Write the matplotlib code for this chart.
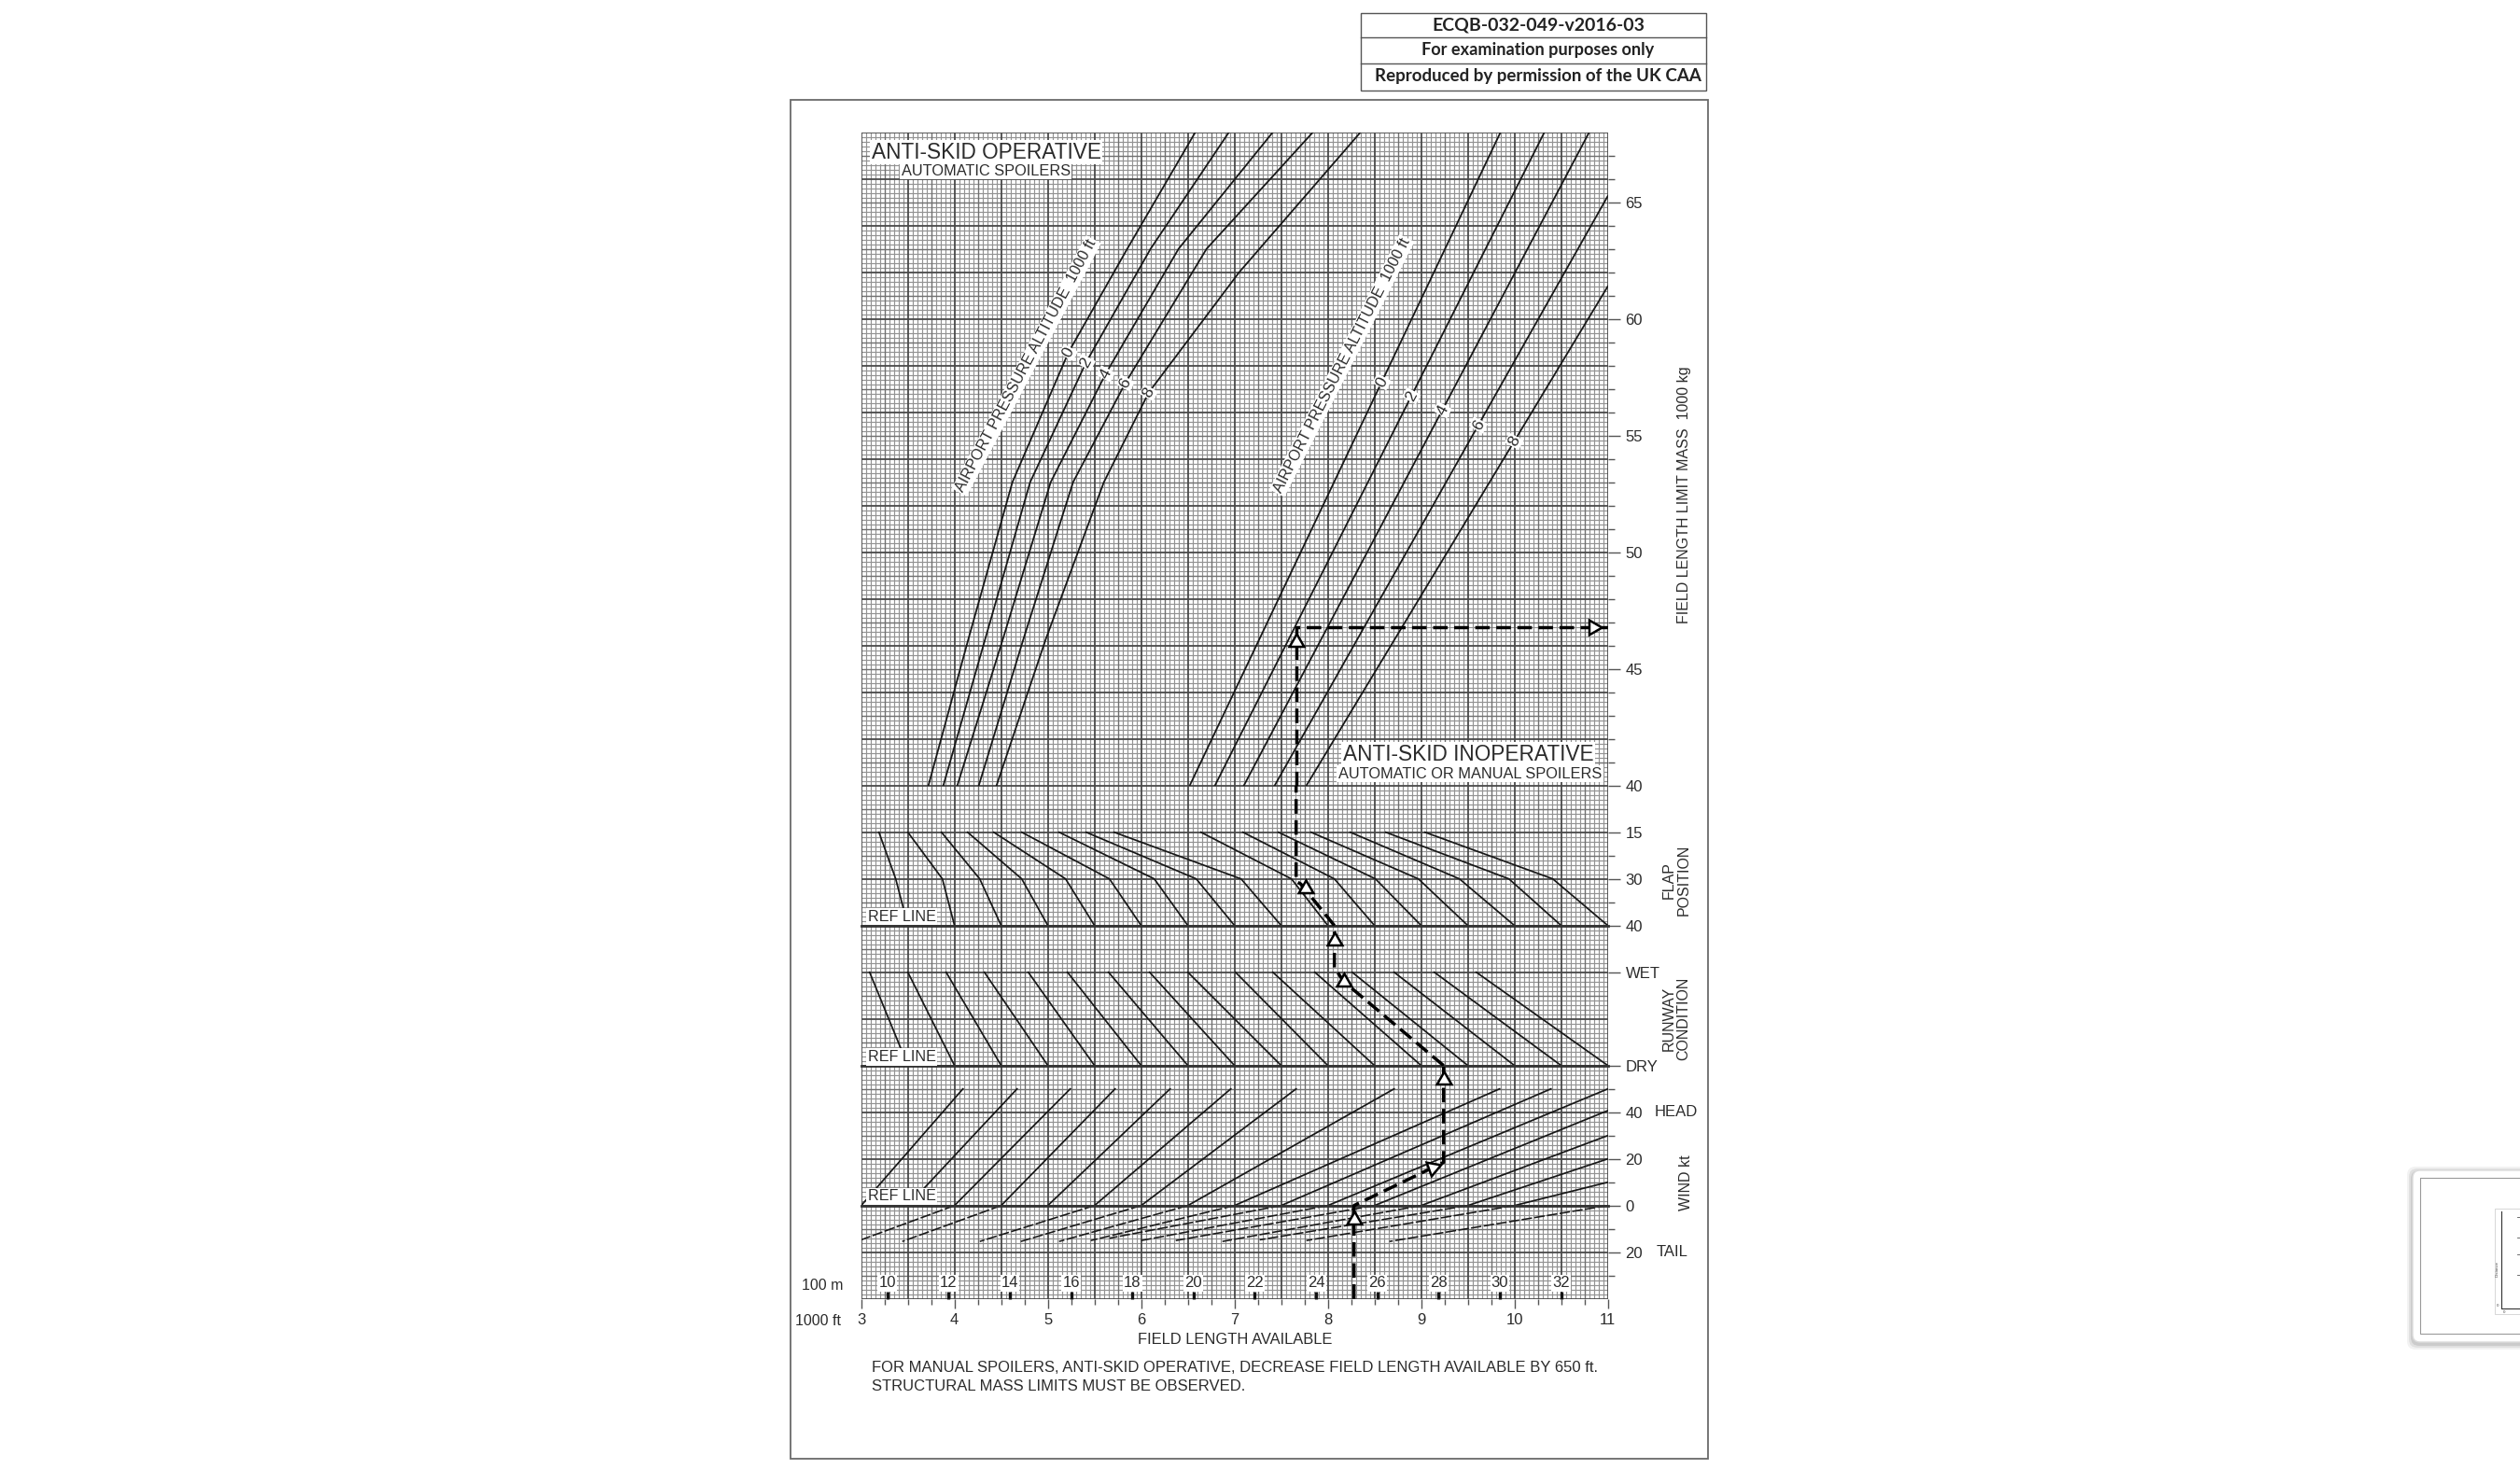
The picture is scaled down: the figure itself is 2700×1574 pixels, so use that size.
import numpy as np
import matplotlib
matplotlib.use("Agg")
import matplotlib.pyplot as plt
from matplotlib.collections import LineCollection
from matplotlib.patches import Rectangle, FancyBboxPatch
from matplotlib.ticker import MultipleLocator

plt.rcParams['font.family'] = ['Liberation Sans', 'DejaVu Sans']

W, H = 2700, 1574

# ---------------- data ----------------
# field length available, 1000 ft and 100 m
ft_ticks = [3, 4, 5, 6, 7, 8, 9, 10, 11]
m_ticks = [10, 12, 14, 16, 18, 20, 22, 24, 26, 28, 30, 32]

# mass panel (1000 kg) - anti-skid operative, pressure altitude 0..8 (1000 ft)
alt_names = ['0', '2', '4', '6', '8']
op_ft = [
  [3.72, 4.15, 4.62, 5.22, 5.85, 6.58],
  [3.88, 4.33, 4.81, 5.41, 6.10, 6.94],
  [4.03, 4.52, 5.03, 5.62, 6.40, 7.41],
  [4.26, 4.74, 5.27, 5.83, 6.70, 7.84],
  [4.45, 4.98, 5.60, 6.08, 7.05, 8.35],
]
op_mass = [
  [40, 46.3, 53.0, 58.56, 63.0, 68.0],
  [40, 46.3, 53.0, 58.14, 63.0, 68.0],
  [40, 46.3, 53.0, 57.65, 63.0, 68.0],
  [40, 46.3, 53.0, 57.25, 63.0, 68.0],
  [40, 46.3, 53.0, 56.84, 62.0, 68.0],
]
# anti-skid inoperative
inop_ft = [[6.52, 9.85], [6.79, 10.32], [7.10, 10.80], [7.43, 11.0], [7.77, 11.0]]
inop_mass = [[40, 68], [40, 68], [40, 68], [40, 65.27], [40, 61.4]]
inop_label_mass = [57.3, 56.7, 56.1, 55.45, 54.75]
mass_major = [40, 45, 50, 55, 60, 65]
mass_minor = [41, 42, 43, 44, 46, 47, 48, 49, 51, 52, 53, 54, 56, 57, 58, 59,
              61, 62, 63, 64, 66, 67]

# flap position guide lines (x at flap 15, 30, 40 = REF)
flap_names = ['40', '30', '15']
flap15_ft = [3.19, 3.50, 3.86, 4.14, 4.42, 4.72, 5.12, 5.41, 5.71,
             6.64, 7.09, 7.47, 7.82, 8.24, 8.62, 9.04]
flap30_ft = [3.37, 3.87, 4.27, 4.72, 5.19, 5.66, 6.14, 6.59, 7.07,
             7.61, 8.07, 8.51, 8.97, 9.41, 9.94, 10.41]
flap40_ft = [3.5, 4.0, 4.5, 5.0, 5.5, 6.0, 6.5, 7.0, 7.5,
             8.0, 8.5, 9.0, 9.5, 10.0, 10.5, 11.0]

# runway condition guide lines (x at WET, x at DRY = REF)
rwy_wet_ft = [3.09, 3.50, 3.91, 4.32, 4.79, 5.21, 5.65, 6.09, 6.50,
              7.01, 7.41, 7.86, 8.26, 8.71, 9.14, 9.59]
rwy_dry_ft = [3.5, 4.0, 4.5, 5.0, 5.5, 6.0, 6.5, 7.0, 7.5,
              8.0, 8.5, 9.0, 9.5, 10.0, 10.5, 11.0]

# wind guide lines (kt): headwind above REF, tailwind below
head_ref_ft = [3.0, 3.5, 4.0, 4.5, 5.0, 5.5, 6.0, 6.5, 7.0, 7.5, 8.0, 8.5, 9.0, 9.5, 10.0]
head_end_ft = [4.09, 4.67, 5.24, 5.72, 6.31, 6.96, 7.66, 8.71, 9.84, 10.39,
               11.0, 11.0, 11.0, 11.0, 11.0]
head_end_kt = [50, 50, 50, 50, 50, 50, 50, 50, 50, 50, 50, 40.7, 30, 20, 10]
tail_ref_ft = [4.0, 4.5, 5.5, 6.0, 6.5, 7.0, 7.5, 8.0, 8.5, 9.0, 9.5, 10.0, 11.0]
tail_end_ft = [3.0, 3.44, 4.27, 4.71, 5.12, 5.46, 5.66, 6.0, 6.37, 6.87, 7.27, 7.77, 8.66]
tail_end_kt = [-14.7, -15.4, -15.4, -15.4, -15.4, -15.0, -14.0, -15.0, -15.0,
               -15.4, -14.7, -15.0, -15.4]

# worked example (dashed path) and its arrow heads (x, y, marker angle)
ex_wind_ft = [8.28, 8.28, 9.24, 9.24]
ex_wind_kt = [-40, 0, 18.5, 60]
ex_rwy_ft = [9.24, 8.17, 8.07, 8.07]
ex_rwy_y = [0, 0.9, 1.05, 1.5]
ex_flap_ft = [8.07, 7.71, 7.66, 7.66]
ex_flap_y = [0, 0.89, 0.95, 3]
ex_mass_ft = [7.66, 7.66, 11.0]
ex_mass = [40, 46.8, 46.8]
arr_wind = [(8.28, -6.0, 0), (9.12, 16.2, 170), (9.24, 54.0, 0)]
arr_rwy = [(8.17, 0.9, -120), (8.07, 1.34, 0)]
arr_flap = [(7.76, 0.79, -120)]
arr_mass = [(7.66, 46.15, 0), (10.84, 46.8, -90)]

# ---------------- drawing ----------------
INK = '#181818'
TXT = '#2b2b2b'
TCK = '#555555'
GX0, GX1, GTOP, GBOT = 922.7, 1722.7, 141.7, 1391.7

fig = plt.figure(figsize=(W / 100, H / 100), dpi=100)
fig.patch.set_facecolor('white')
renderer = fig.canvas.get_renderer()

def fx(px):
  return px / W

def fy(py):
  return 1 - py / H

def fit(t, width_px):
  # scale a text so that it spans the width measured on the reference
  bb = t.get_window_extent(renderer)
  t.set_fontsize(t.get_fontsize() * width_px / bb.width)

def panel(top, bottom, z=1):
  ax = fig.add_axes([fx(GX0), fy(bottom), (GX1 - GX0) / W, (bottom - top) / H], zorder=z)
  ax.patch.set_visible(False)
  for s in ax.spines.values():
    s.set_visible(False)
  ax.set_xlim(3, 11)
  ax.tick_params(axis='x', which='both', bottom=False, labelbottom=False)
  return ax

def right_ticks(ax, major, labels, minor):
  ax.yaxis.tick_right()
  ax.set_yticks(major)
  ax.set_yticklabels(labels)
  ax.set_yticks(minor, minor=True)
  ax.tick_params(axis='y', which='major', length=9.5, width=1.0, color=TCK,
                 labelcolor=TXT, labelsize=12, pad=4)
  ax.tick_params(axis='y', which='minor', length=5, width=1.0, color=TCK)

def arrows(ax, pts):
  for x, y, a in pts:
    ax.plot([x], [y], marker=(3, 0, a), ms=13, mfc='white', mec='k', mew=1.8,
            ls='none', zorder=6)

def dashed(ax, xs, ys):
  ax.plot(xs, ys, color='k', lw=2.5, dashes=(4.5, 2), zorder=5)

white = dict(facecolor='white', edgecolor='none', pad=1.2)
tag = dict(facecolor='white', edgecolor='none', pad=0.7)

# graph paper behind everything
bg = panel(GTOP, GBOT, z=0)
bg.set_xlim(0, 800)
bg.set_ylim(0, 1250)
bg.set_yticks([])
fine, mid, heavy = [], [], []
for k in range(161):
  seg = [(5 * k, 0), (5 * k, 1250)]
  (heavy if k % 10 == 0 else mid if k % 5 == 0 else fine).append(seg)
for k in range(251):
  seg = [(0, 5 * k), (800, 5 * k)]
  (heavy if k % 10 == 0 else mid if k % 5 == 0 else fine).append(seg)
bg.add_collection(LineCollection(fine, colors='#939393', linewidths=0.85))
bg.add_collection(LineCollection(mid, colors='#707070', linewidths=1.0))
bg.add_collection(LineCollection(heavy, colors='#4a4a4a', linewidths=1.3))

# ---- mass panel ----
ax_m = panel(GTOP, 841.7)
ax_m.set_ylim(40, 68)
for xs, ms in zip(op_ft, op_mass):
  ax_m.plot(xs, ms, color=INK, lw=1.3)
for xs, ms in zip(inop_ft, inop_mass):
  ax_m.plot(xs, ms, color=INK, lw=1.3)
for i, name in enumerate(alt_names):
  ax_m.text(op_ft[i][3], op_mass[i][3], name, rotation=62, ha='center', va='center',
            fontsize=12.5, color=TXT, bbox=tag)
  lx = np.interp(inop_label_mass[i], inop_mass[i], inop_ft[i])
  ax_m.text(lx, inop_label_mass[i], name, rotation=62, ha='center', va='center',
            fontsize=12.5, color=TXT, bbox=tag)
ax_m.text(4.77, 57.99, 'AIRPORT PRESSURE ALTITUDE  1000 ft', rotation=62,
          ha='center', va='center', fontsize=11.6, color=TXT, bbox=white)
ax_m.text(8.15, 58.0, 'AIRPORT PRESSURE ALTITUDE  1000 ft', rotation=63,
          ha='center', va='center', fontsize=11.6, color=TXT, bbox=white)
ax_m.text(3.11, 67.14, 'ANTI-SKID OPERATIVE', ha='left', va='center', fontsize=16.3,
          color=TXT, bbox=white)
ax_m.text(3.43, 66.34, 'AUTOMATIC SPOILERS', ha='left', va='center', fontsize=11.8,
          color=TXT, bbox=white)
ax_m.text(8.16, 41.34, 'ANTI-SKID INOPERATIVE', ha='left', va='center', fontsize=16.3,
          color=TXT, bbox=white)
ax_m.text(8.11, 40.50, 'AUTOMATIC OR MANUAL SPOILERS', ha='left', va='center',
          fontsize=11.8, color=TXT, bbox=white)
right_ticks(ax_m, mass_major, [str(v) for v in mass_major], mass_minor)
dashed(ax_m, ex_mass_ft, ex_mass)
arrows(ax_m, arr_mass)

# ---- flap panel ----
ax_f = panel(841.7, 991.7)
ax_f.set_ylim(0, 3)
for a, b, c in zip(flap15_ft, flap30_ft, flap40_ft):
  ax_f.plot([a, b, c], [2, 1, 0], color=INK, lw=1.25)
ax_f.axhline(0, color='#333333', lw=2.0, clip_on=False)
ax_f.text(3.07, 0.19, 'REF LINE', ha='left', va='center', fontsize=11.6, color=TXT, bbox=white)
right_ticks(ax_f, [0, 1, 2], flap_names, [0.5, 1.5])
dashed(ax_f, ex_flap_ft, ex_flap_y)
arrows(ax_f, arr_flap)

# ---- runway panel ----
ax_r = panel(991.7, 1141.7)
ax_r.set_ylim(0, 1.5)
for a, b in zip(rwy_wet_ft, rwy_dry_ft):
  ax_r.plot([a, b], [1, 0], color=INK, lw=1.25)
ax_r.axhline(0, color='#333333', lw=2.0, clip_on=False)
ax_r.text(3.07, 0.092, 'REF LINE', ha='left', va='center', fontsize=11.6, color=TXT, bbox=white)
right_ticks(ax_r, [0, 1], ['DRY', 'WET'], [])
dashed(ax_r, ex_rwy_ft, ex_rwy_y)
arrows(ax_r, arr_rwy)

# ---- wind panel ----
ax_w = panel(1141.7, GBOT)
ax_w.set_ylim(-40, 60)
for a, b, w in zip(head_ref_ft, head_end_ft, head_end_kt):
  ax_w.plot([a, b], [0, w], color=INK, lw=1.25)
for a, b, w in zip(tail_ref_ft, tail_end_ft, tail_end_kt):
  ax_w.plot([a, b], [0, w], color=INK, lw=1.15, dashes=(7, 1.6))
ax_w.axhline(0, color='#333333', lw=2.0, clip_on=False)
ax_w.text(3.07, 3.9, 'REF LINE', ha='left', va='center', fontsize=11.6, color=TXT, bbox=white)
right_ticks(ax_w, [-20, 0, 20, 40], ['20', '0', '20', '40'], [-30, -10, 10, 30, 50])
dashed(ax_w, ex_wind_ft, ex_wind_kt)
arrows(ax_w, arr_wind)

ax_w.tick_params(axis='x', which='both', bottom=True, labelbottom=True)
ax_w.set_xticks(ft_ticks)
ax_w.xaxis.set_minor_locator(MultipleLocator(0.25))
ax_w.tick_params(axis='x', which='major', length=7.5, width=1.0, color=TCK,
                 labelsize=12, labelcolor=TXT, pad=3.5)
ax_w.tick_params(axis='x', which='minor', length=4, width=1.0, color=TCK)

sec = ax_w.secondary_xaxis('bottom', functions=(lambda f: f / 0.328084, lambda m: m * 0.328084))
sec.set_xticks(m_ticks)
sec.tick_params(axis='x', direction='in', length=5.5, width=2.4, color='#111111',
                labelsize=12, labelcolor=TXT, pad=-17.5)
sec.spines['bottom'].set_visible(False)
for lbl in sec.get_xticklabels():
  lbl.set_bbox(dict(facecolor='white', edgecolor='none', pad=0.8))

# ---- texts around the chart ----
fig.text(fx(881.5), fy(1377), '100 m', ha='center', va='center', fontsize=11.5, color=TXT)
fig.text(fx(876.5), fy(1415), '1000 ft', ha='center', va='center', fontsize=11.5, color=TXT)
t = fig.text(fx(1323), fy(1436), 'FIELD LENGTH AVAILABLE', ha='center', va='center',
             fontsize=12, color=TXT)
fit(t, 208)
t = fig.text(fx(934), fy(1465), 'FOR MANUAL SPOILERS, ANTI-SKID OPERATIVE, DECREASE FIELD '
             'LENGTH AVAILABLE BY 650 ft.', ha='left', va='center', fontsize=12, color=TXT)
fit(t, 776)
fig.text(fx(934), fy(1486), 'STRUCTURAL MASS LIMITS MUST BE OBSERVED.', ha='left',
         va='center', fontsize=t.get_fontsize(), color=TXT)

fig.text(fx(1804.5), fy(530), 'FIELD LENGTH LIMIT MASS  1000 kg', rotation=90,
         ha='center', va='center', fontsize=11.5, color=TXT)
fig.text(fx(1796), fy(943), 'FLAP\nPOSITION', rotation=90, ha='center', va='center',
         multialignment='center', linespacing=1.1, fontsize=11.5, color=TXT)
fig.text(fx(1796), fy(1091), 'RUNWAY\nCONDITION', rotation=90, ha='center', va='center',
         multialignment='center', linespacing=1.1, fontsize=11.5, color=TXT)
fig.text(fx(1806.5), fy(1267), 'WIND kt', rotation=90, ha='center', va='center',
         fontsize=11.5, color=TXT)
fig.text(fx(1773), fy(1192), 'HEAD', ha='left', va='center', fontsize=12, color=TXT)
fig.text(fx(1775), fy(1342), 'TAIL', ha='left', va='center', fontsize=12, color=TXT)

# page frame
fig.add_artist(Rectangle((fx(847), fy(1563)), (1830 - 847) / W, (1563 - 107) / H,
                         transform=fig.transFigure, fill=False, ec='#6a6a6a', lw=1.3))

# header box
fig.add_artist(Rectangle((fx(1458), fy(97)), (1828 - 1458) / W, (97 - 14) / H,
                         transform=fig.transFigure, fill=False, ec='#555555', lw=1.0))
for yy in (40, 68):
  fig.add_artist(plt.Line2D([fx(1458), fx(1828)], [fy(yy), fy(yy)],
                            transform=fig.transFigure, color='#555555', lw=1.0))
for txt, yy, wid in (('ECQB-032-049-v2016-03', 27, 227),
                     ('For examination purposes only', 54, 248),
                     ('Reproduced by permission of the UK CAA', 82, 350)):
  t = fig.text(fx(1648), fy(yy), txt, ha='center', va='center', fontsize=12,
               fontweight='bold', color='#222222', family=['Lato', 'DejaVu Sans'])
  fit(t, wid)

# partial thumbnail card at the right edge
ax_t = fig.add_axes([fx(2560), fy(1460), 140 / W, 240 / H], zorder=2)
ax_t.set_xlim(2560, 2700)
ax_t.set_ylim(1460, 1220)
ax_t.axis('off')
for d, al in ((6, 0.05), (4, 0.07), (2, 0.09)):
  ax_t.add_patch(FancyBboxPatch((2585 - d, 1254 - d + 2), 140 + 2 * d, 184 + 2 * d,
                                boxstyle='round,pad=0,rounding_size=9', fc='#000000',
                                ec='none', alpha=al))
ax_t.add_patch(FancyBboxPatch((2585, 1254), 140, 184, boxstyle='round,pad=0,rounding_size=8',
                              fc='white', ec='#dcdcdc', lw=1.0))
ax_t.add_patch(Rectangle((2593, 1262), 130, 167, fill=False, ec='#9a9a9a', lw=0.8))
ax_t.add_patch(Rectangle((2673, 1295), 40, 113, fill=False, ec='#c8c8c8', lw=0.5))
ax_t.plot([2680, 2680, 2700], [1298, 1402, 1402], color='#333333', lw=0.8)
ax_t.text(2675.5, 1360, 'Distance', rotation=90, ha='center', va='center', fontsize=3.2,
          color='#444444')
ax_t.text(2676, 1399, '0', ha='center', va='center', fontsize=3.2, color='#444444')
ax_t.text(2683, 1406, '0', ha='center', va='center', fontsize=3.2, color='#444444')
for yy in (1304, 1326, 1344, 1366):
  ax_t.plot([2697, 2700], [yy, yy], color='#555555', lw=0.6)

fig.savefig('out.png', dpi=100, facecolor='white')
